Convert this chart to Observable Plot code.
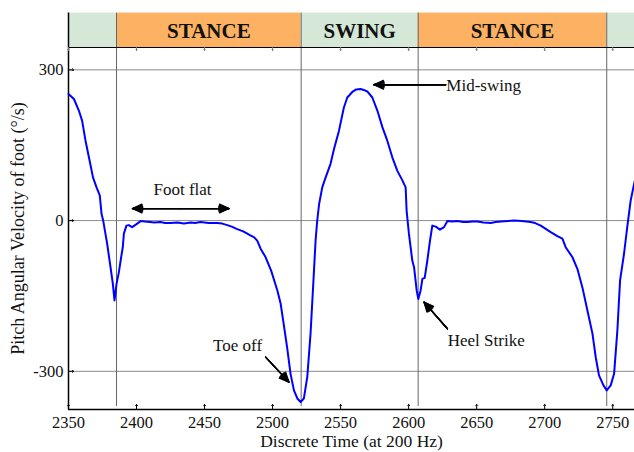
<!DOCTYPE html>
<html>
<head>
<meta charset="utf-8">
<script src="https://cdn.jsdelivr.net/npm/d3@7"></script>
<script src="https://cdn.jsdelivr.net/npm/@observablehq/plot@0.6"></script>
<style>
  html, body { margin: 0; padding: 0; background: #fff; }
  svg { display: block; }
</style>
</head>
<body>
<script>
// ---- Data ----
const time = [
  2350, 2354, 2357.6, 2360, 2362.5, 2365, 2368, 2370.6, 2373, 2374.3, 2375.5, 2378.4, 2380.9, 2382.6, 2383.8,
  2385.3, 2387, 2388.7, 2389.9, 2390.7, 2392.6, 2394.3, 2396.8, 2400, 2403, 2406, 2410, 2413, 2417.6, 2421,
  2425, 2430, 2434.8, 2440, 2443, 2447, 2453, 2459.3, 2463, 2466.7, 2470, 2474, 2478, 2481.4, 2484, 2486.3,
  2488.7, 2491.2, 2494.9, 2499, 2503.5, 2505.9, 2508.5, 2510.8, 2513.2, 2515.7, 2518.2, 2520.6, 2523, 2525.5,
  2527.9, 2529.9, 2531.6, 2532.8, 2534.2, 2536.5, 2539, 2542.6, 2545.1, 2548.8, 2552.4, 2554.9, 2558.6, 2561.5,
  2564.7, 2567, 2569.6, 2573.3, 2577, 2580.7, 2584.3, 2588, 2591.7, 2595.4, 2597.8, 2598.5, 2600.2, 2602.7,
  2604, 2605.9, 2607.1, 2608.8, 2610.1, 2611.8, 2613.7, 2615.7, 2617.4, 2619.9, 2623, 2626, 2628.5, 2632,
  2635.8, 2640, 2643.2, 2647, 2650.5, 2655, 2660.3, 2664, 2668, 2673, 2677.5, 2683, 2689.7, 2693, 2697.1,
  2700.5, 2704.4, 2709.3, 2713, 2715.4, 2720.4, 2724, 2727.7, 2731.4, 2735.1, 2737.5, 2739.9, 2743.2, 2745.6,
  2748.5, 2751, 2753.4, 2755.4, 2758.3, 2760.8, 2763.2, 2765.7, 2766.5
];
const omega = [
  252, 242, 219, 199, 159, 126, 86, 66, 50, 13, 0, -46, -93, -126, -159,
  -126, -103, -73, -53, -26, -10, -9, -13, -7, -1, -2, -3, -4, -3, -5,
  -5, -4, -6, -4, -5, -3, -5, -5, -6, -9, -12, -17, -21, -26, -30, -33,
  -40, -56, -73, -100, -139, -165, -212, -255, -305, -338, -354, -361, -354, -311,
  -225, -126, -40, 0, 33, 66, 86, 113, 142, 179, 225, 245, 256, 261,
  262, 260, 257, 245, 219, 186, 159, 126, 99, 80, 66, 20, -26, -80,
  -93, -139, -156, -139, -116, -114, -80, -40, -10, -12, -18, -13, -1, -2,
  -1, -3, -3, -2, -2, -4, -5, -3, -2, -1, 0, -1, -3, -5, -10,
  -16, -23, -31, -36, -53, -73, -96, -133, -179, -225, -272, -308, -328, -338,
  -328, -305, -219, -119, -66, -10, 40, 73, 82
];

const phaseStart = [2350, 2385.3, 2521, 2607, 2745.6];
const phaseEnd   = [2385.3, 2521, 2607, 2745.6, 2766];
const phaseName  = ["", "STANCE", "SWING", "STANCE", ""];
const phaseKind  = ["swing", "stance", "swing", "stance", "swing"];
const boundaries = [2385.3, 2521, 2607, 2745.6];

const xTicks = [2350, 2400, 2450, 2500, 2550, 2600, 2650, 2700, 2750];
const yTicks = [-300, 0, 300];
const yTickLabels = ["-300", "0", "300"];

const xDomain = [2350, 2766];
const yDomain = [-376, 344.5];
const bandTop = 413;

const noteText = ["Foot flat", "Toe off", "Mid-swing", "Heel Strike"];
const noteX    = [2433.8, 2474.3, 2655.1, 2657];
const noteY    = [61.6, -248.5, 268.4, -238.6];

const arrowX1 = [2432.5, 2432.5, 2494.9, 2627.2, 2628.5];
const arrowY1 = [24, 24, -271.8, 270.4, -215.3];
const arrowX2 = [2397, 2468, 2512, 2574.5, 2611.3];
const arrowY2 = [24, 24, -321.5, 270.4, -162.4];

// ---- Tables ----
const series = time.map((t, i) => ({t, v: omega[i]}));
const phases = phaseStart.map((s, i) => ({s, e: phaseEnd[i], name: phaseName[i], kind: phaseKind[i]}));
const notes = noteText.map((text, i) => ({text, x: noteX[i], y: noteY[i]}));
const arrows = arrowX1.map((x1, i) => ({x1, y1: arrowY1[i], x2: arrowX2[i], y2: arrowY2[i]}));

const headAngles = [10, 20, 30, 40, 50];
const serif = "'Liberation Serif', 'Times New Roman', serif";

const chart = Plot.plot({
  width: 634,
  height: 452,
  marginTop: 47,
  marginRight: 0,
  marginBottom: 43,
  marginLeft: 68,
  style: {fontFamily: serif, background: "#fff"},
  x: {domain: xDomain, axis: null},
  y: {domain: yDomain, axis: null},
  color: {domain: ["stance", "swing"], range: ["#fdb163", "#d5e8d8"]},
  marks: [
    // phase band above the plot
    Plot.rect(phases, {x1: "s", x2: "e", y1: yDomain[1], y2: bandTop, fill: "kind"}),
    Plot.text(phases, {x: d => (d.s + d.e) / 2, y: (yDomain[1] + bandTop) / 2, text: "name",
      fontWeight: "bold", fontSize: 21, fill: "#111", dy: 1}),
    // horizontal grid
    Plot.ruleY(yTicks, {stroke: "#8c8c8c", strokeWidth: 1}),
    // phase boundaries
    Plot.ruleX(boundaries, {y1: yDomain[0] + 6, y2: bandTop, stroke: "#666", strokeWidth: 1}),
    // top border
    Plot.ruleY([yDomain[1]], {stroke: "#000", strokeWidth: 1.2}),
    // axes lines
    Plot.ruleY([yDomain[0]], {stroke: "#000", strokeWidth: 1.5}),
    Plot.ruleX([xDomain[0]], {y1: yDomain[0], y2: bandTop, stroke: "#000", strokeWidth: 1.5}),
    // ticks (inward)
    Plot.vector(xTicks, {x: d => d, frameAnchor: "bottom", length: 5, rotate: 0, anchor: "start", stroke: "#000", strokeWidth: 1}),
    Plot.vector(xTicks, {x: d => d, frameAnchor: "top", length: 3, rotate: 180, anchor: "start", stroke: "#777", strokeWidth: 1}),
    Plot.vector(yTicks, {y: d => d, frameAnchor: "left", length: 5, rotate: 90, anchor: "start", stroke: "#000", strokeWidth: 1}),
    // tick labels
    Plot.text(xTicks, {x: d => d, frameAnchor: "bottom", dy: 13, lineAnchor: "middle", textAnchor: "middle",
      text: d => String(d), fontSize: 16.5, fill: "#111"}),
    Plot.text(yTicks, {y: d => d, frameAnchor: "left", dx: -5, textAnchor: "end", lineAnchor: "middle",
      text: (d, i) => yTickLabels[i], fontSize: 16.5, fill: "#111"}),
    // axis titles
    Plot.text(["Discrete Time (at 200 Hz)"], {frameAnchor: "bottom", dy: 32, lineAnchor: "middle", textAnchor: "middle",
      text: d => d, fontSize: 17.5, fill: "#111"}),
    Plot.text(["Pitch Angular Velocity of foot (°/s)"], {frameAnchor: "left", dx: -50, rotate: -90,
      textAnchor: "middle", lineAnchor: "middle", text: d => d, fontSize: 18, fill: "#111"}),
    // curve
    Plot.line(series, {x: "t", y: "v", stroke: "#0000ff", strokeWidth: 2}),
    // annotations
    ...headAngles.map(a => Plot.arrow(arrows, {x1: "x1", y1: "y1", x2: "x2", y2: "y2",
      stroke: "#000", strokeWidth: 1.3, headLength: 12, headAngle: a})),
    Plot.text(notes, {x: "x", y: "y", text: "text", textAnchor: "middle", lineAnchor: "middle", fontSize: 17, fill: "#111"})
  ]
});
document.body.appendChild(chart);
</script>
</body>
</html>
